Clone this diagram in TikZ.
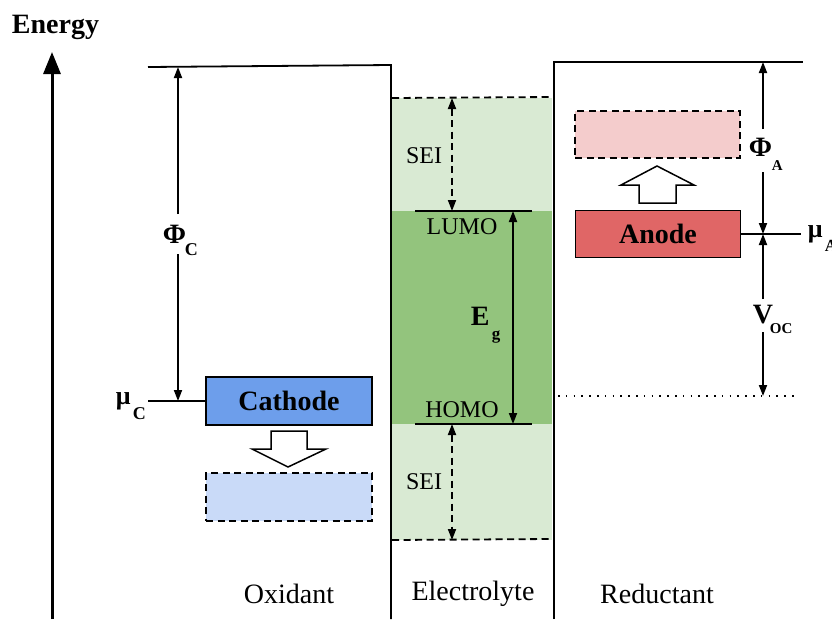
\documentclass[tikz,border=0pt]{standalone}
\usepackage{fontspec}
\setmainfont{Liberation Serif}
\usetikzlibrary{arrows.meta}
\definecolor{lgreen}{HTML}{D9EAD3}
\definecolor{dgreen}{HTML}{93C47D}
\definecolor{cblue}{HTML}{6D9EEB}
\definecolor{lblue}{HTML}{C9DAF8}
\definecolor{ared}{HTML}{E06666}
\definecolor{lpink}{HTML}{F4CCCC}
\begin{document}
\begin{tikzpicture}[x=1pt,y=-1pt,line width=1.8pt,
  tipp/.style={-{Triangle[length=11pt,width=8pt]}},
  dsh/.style={dash pattern=on 7pt off 4.5pt},
  big/.style={font=\fontsize{28}{30}\selectfont, inner sep=0pt},
  bigb/.style={font=\bfseries\fontsize{28}{30}\selectfont, inner sep=0pt},
  mid/.style={font=\fontsize{24}{26}\selectfont, inner sep=0pt},
  sub/.style={font=\bfseries\fontsize{17}{18}\selectfont, inner sep=0pt, anchor=base west},
  sym/.style={font=\bfseries\fontsize{28}{30}\selectfont, inner sep=0pt, anchor=base west},
  box/.style={draw, minimum width=165pt, minimum height=47pt, inner sep=0pt}]
\useasboundingbox (0,0) rectangle (832,619);
% electrolyte backgrounds
\fill[lgreen] (392,98) rectangle (552,540);
\fill[dgreen] (392,211) rectangle (552,424);
\draw[dsh] (392,98) -- (552,97);
\draw[dsh] (392,540) -- (550,539);
% energy axis
\node[bigb, anchor=base west] (energy) at (11,33) {Energy};
\coordinate (eb) at (52,619);
\coordinate (et) at (52,52);
\draw[line width=3pt, -{Triangle[length=22pt,width=17pt]}] (eb) -- (et);
% frame lines
\draw (148,67) -- (391,65) -- (391,619);
\draw (554,619) -- (554,62) -- (803,62);
% Phi_C
\coordinate (pct) at (178,67);
\coordinate (pcb) at (178,401);
\coordinate (pcg1) at (178,214);
\coordinate (pcg2) at (178,254);
\draw[tipp] (pcg1) -- (pct);
\draw[tipp] (pcg2) -- (pcb);
\node[sym] (phic) at (162,243) {Φ};
\node[sub,font=\bfseries\fontsize{18}{18}\selectfont] (phics) at (184,255) {C};
% cathode
\node[box, fill=cblue, minimum width=166pt, minimum height=48pt] (cathode) at (289,401) {\bfseries\fontsize{28}{30}\selectfont Cathode};
\coordinate (muc) at (148,401);
\draw (muc) -- (cathode.west);
\node[sym,font=\bfseries\fontsize{26}{28}\selectfont] (mucs) at (115,404) {μ};
\node[sub,font=\bfseries\fontsize{18}{18}\selectfont] (mucsub) at (132,419) {C};
\draw[fill=white, line width=1.5pt] (271,431) -- (307,431) -- (307,449) -- (326,449) -- (288,467) -- (252,449) -- (271,449) -- cycle;
\node[box, fill=lblue, dsh, minimum width=166pt, minimum height=48pt] (cathnew) at (289,497) {};
% electrolyte arrows
\coordinate (lumoL) at (415,211);
\coordinate (lumoR) at (532,211);
\coordinate (homoL) at (415,424);
\coordinate (homoR) at (532,424);
\draw[line width=1.5pt] (lumoL) -- (lumoR);
\draw[line width=1.5pt] (homoL) -- (homoR);
\node[mid] (lumo) at (462,227) {LUMO};
\node[mid] (homo) at (462,410) {HOMO};
\coordinate (egt) at (513,211);
\coordinate (egb) at (513,424);
\draw[{Triangle[length=11pt,width=8pt]}-{Triangle[length=11pt,width=8pt]}] (egt) -- (egb);
\node[sym] (eg) at (470,325) {E};
\node[sub] (egs) at (491,339) {g};
\coordinate (s1t) at (452,98);
\coordinate (s1b) at (452,211);
\coordinate (s2t) at (452,424);
\coordinate (s2b) at (452,540);
\draw[dsh,{Triangle[length=11pt,width=8pt]}-{Triangle[length=11pt,width=8pt]}] (s1t) -- (s1b);
\draw[dsh,{Triangle[length=11pt,width=8pt]}-{Triangle[length=11pt,width=8pt]}] (s2t) -- (s2b);
\node[mid] (sei1) at (424,156) {SEI};
\node[mid] (sei2) at (424,482) {SEI};
% anode side
\node[box, fill=lpink, dsh] (anew) at (657.5,134.5) {};
\draw[fill=white, line width=1.5pt] (639,203) -- (676,203) -- (676,185) -- (694,185) -- (657,166) -- (621,185) -- (639,185) -- cycle;
\node[box, fill=ared] (anode) at (658,234) {\bfseries\fontsize{28}{30}\selectfont Anode};
\coordinate (mua) at (801,234);
\draw (anode.east) -- (mua);
\node[sym,font=\bfseries\fontsize{26}{28}\selectfont] (muas) at (807,237) {μ};
\node[sub] (muasub) at (824,251) {A};
\coordinate (pat) at (763,62);
\coordinate (pab) at (763,234);
\coordinate (pag1) at (763,129);
\coordinate (pag2) at (763,172);
\draw[tipp] (pag1) -- (pat);
\draw[tipp] (pag2) -- (pab);
\node[sym] (phia) at (748,156) {Φ};
\node[sub,font=\bfseries\fontsize{15}{16}\selectfont] (phias) at (771,170) {A};
\coordinate (vt) at (763,234);
\coordinate (vb) at (763,396);
\coordinate (vg1) at (763,299);
\coordinate (vg2) at (763,332);
\draw[tipp] (vg1) -- (vt);
\draw[tipp] (vg2) -- (vb);
\node[sym] (voc) at (752,323) {V};
\node[sub,font=\bfseries\fontsize{15}{16}\selectfont] (vocs) at (769,333) {OC};
\coordinate (dl) at (558,396);
\coordinate (dr) at (795,396);
\draw[line width=2pt, dash pattern=on 1.6pt off 6.2pt] (dl) -- (dr);
% bottom labels
\node[big] (ox) at (289,594) {Oxidant};
\node[big] (el) at (473,594) {Electrolyte};
\node[big] (red) at (657,594) {Reductant};
\end{tikzpicture}
\end{document}
